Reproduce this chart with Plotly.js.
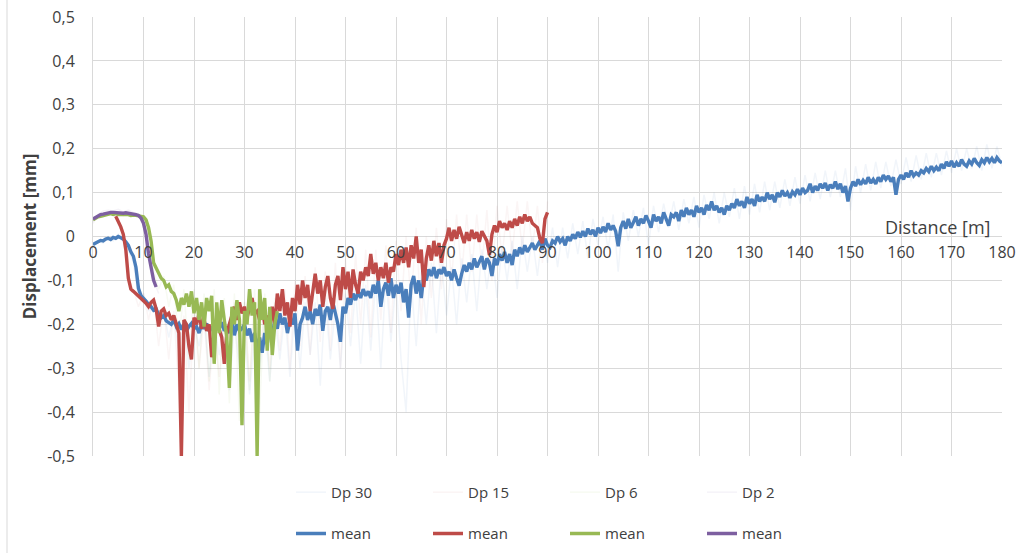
<!DOCTYPE html>
<html>
<head>
<meta charset="utf-8">
<script src="https://cdn.plot.ly/plotly-3.0.1.min.js"></script>
<style>
  html, body { margin: 0; padding: 0; background: #ffffff; }
  #chart { width: 1021px; height: 553px; }
</style>
</head>
<body>
<div id="chart"></div>
<script>
// Distance sampling of each series (m)
const meanStep = 0.5;
const rawStep = 1;

// Raw displacement records (mm), one value per metre
const dp30Start = 0;
const dp30 = [
  -0.02,-0.01,-0.015,0.0,-0.01,0.005,-0.01,-0.03,-0.06,-0.14,
  -0.13,-0.17,-0.15,-0.2,-0.17,-0.23,-0.18,-0.26,-0.19,-0.3,
  -0.2,-0.25,-0.18,-0.32,-0.2,-0.27,-0.19,-0.35,-0.2,-0.3,
  -0.21,-0.36,-0.22,-0.3,-0.2,-0.33,-0.18,-0.28,-0.17,-0.32,
  -0.16,-0.3,-0.15,-0.27,-0.15,-0.34,-0.14,-0.28,-0.16,-0.3,
  -0.13,-0.25,-0.12,-0.29,-0.11,-0.26,-0.1,-0.3,-0.09,-0.24,
  -0.1,-0.28,-0.4,-0.1,-0.25,-0.08,-0.2,-0.06,-0.22,-0.06,
  -0.18,-0.07,-0.2,-0.05,-0.15,-0.04,-0.17,-0.03,-0.12,-0.03,
  -0.14,-0.02,-0.1,-0.01,-0.12,0.0,-0.08,0.0,-0.09,0.01,
  -0.06,0.02,-0.07,0.02,-0.05,0.03,-0.04,0.035,-0.05,0.04,
  -0.02,0.045,-0.03,0.05,-0.08,0.055,-0.01,0.06,0.0,0.065,
  -0.02,0.07,0.01,0.075,0.02,0.08,0.015,0.085,0.03,0.09,
  0.02,0.095,0.04,0.1,0.03,0.1,0.045,0.11,0.04,0.115,
  0.05,0.12,0.055,0.125,0.06,0.125,0.065,0.13,0.07,0.135,
  0.075,0.14,0.08,0.145,0.085,0.15,0.09,0.15,0.09,0.155,
  0.06,0.16,0.1,0.165,0.105,0.17,0.11,0.17,0.115,0.175,
  0.12,0.18,0.125,0.185,0.13,0.19,0.135,0.19,0.14,0.195,
  0.145,0.2,0.15,0.2,0.155,0.205,0.15,0.21,0.155,0.205,
  0.16
];
const dp15Start = 4;
const dp15 = [
  0.05,0.04,0.0,-0.1,-0.12,-0.16,
  -0.13,-0.19,-0.14,-0.25,-0.16,-0.28,-0.17,-0.35,-0.18,-0.4,
  -0.17,-0.3,-0.18,-0.35,-0.2,-0.32,-0.18,-0.3,-0.15,-0.28,
  -0.15,-0.33,-0.16,-0.27,-0.17,-0.3,-0.14,-0.26,-0.12,-0.3,
  -0.1,-0.25,-0.09,-0.27,-0.07,-0.24,-0.08,-0.26,-0.06,-0.3,
  -0.05,-0.22,-0.04,-0.2,-0.03,-0.23,-0.03,-0.19,-0.02,-0.22,
  -0.01,-0.17,0.0,-0.15,0.02,-0.2,0.0,-0.14,0.02,-0.12,
  0.04,-0.1,0.05,-0.09,0.05,-0.08,0.05,-0.07,0.06,-0.1,
  0.07,-0.05,0.07,-0.04,0.08,-0.03,0.08,-0.03,0.07,-0.06,
  0.08
];
const dp6Start = 0;
const dp6 = [
  0.035,0.05,0.045,0.055,0.048,0.056,0.047,0.055,0.046,0.052,
  0.04,0.0,-0.08,-0.12,-0.09,-0.16,-0.11,-0.24,-0.12,-0.28,
  -0.12,-0.3,-0.13,-0.33,-0.12,-0.36,-0.14,-0.38,-0.13,-0.42,
  -0.15,-0.35,-0.12,-0.4,-0.13,-0.33,-0.15
];
const dp2Start = 0;
const dp2 = [
  0.03,0.05,0.058,0.06,0.058,0.062,0.056,0.06,0.055,0.052,
  0.035,-0.03,-0.1,-0.13
];

// Mean displacement (mm), one value per half metre
const mean30Start = 0;
const mean30 = [
  -0.018,-0.014,-0.012,-0.009,-0.010,-0.006,-0.004,-0.007,-0.002,-0.004,
  0.000,-0.003,-0.006,-0.012,-0.020,-0.035,-0.045,-0.070,-0.118,-0.135,
  -0.140,-0.147,-0.155,-0.160,-0.168,-0.165,-0.178,-0.185,-0.180,-0.192,
  -0.196,-0.200,-0.190,-0.205,-0.198,-0.212,-0.200,-0.215,-0.205,-0.198,
  -0.210,-0.205,-0.220,-0.200,-0.210,-0.198,-0.215,-0.205,-0.220,-0.200,
  -0.210,-0.195,-0.215,-0.205,-0.220,-0.190,-0.225,-0.200,-0.215,-0.210,
  -0.200,-0.225,-0.210,-0.240,-0.220,-0.255,-0.230,-0.265,-0.220,-0.245,
  -0.200,-0.225,-0.190,-0.210,-0.175,-0.200,-0.185,-0.220,-0.190,-0.200,
  -0.175,-0.260,-0.200,-0.185,-0.160,-0.190,-0.170,-0.200,-0.165,-0.180,
  -0.155,-0.215,-0.170,-0.160,-0.190,-0.150,-0.175,-0.200,-0.240,-0.160,
  -0.175,-0.140,-0.155,-0.130,-0.145,-0.125,-0.140,-0.120,-0.135,-0.125,
  -0.140,-0.110,-0.130,-0.100,-0.160,-0.120,-0.105,-0.135,-0.095,-0.140,
  -0.110,-0.130,-0.105,-0.150,-0.120,-0.185,-0.110,-0.090,-0.130,-0.100,
  -0.140,-0.090,-0.100,-0.075,-0.090,-0.070,-0.095,-0.075,-0.085,-0.070,
  -0.090,-0.080,-0.100,-0.075,-0.095,-0.112,-0.085,-0.065,-0.080,-0.060,
  -0.075,-0.050,-0.070,-0.055,-0.045,-0.075,-0.050,-0.060,-0.090,-0.050,
  -0.065,-0.040,-0.055,-0.035,-0.060,-0.040,-0.065,-0.030,-0.045,-0.025,
  -0.040,-0.020,-0.035,-0.025,-0.015,-0.030,-0.020,-0.010,-0.030,-0.005,
  -0.020,-0.025,-0.010,-0.015,0.000,-0.012,-0.005,-0.020,0.000,-0.010,
  0.005,-0.005,0.010,-0.002,0.012,0.000,0.018,0.005,0.015,0.000,
  0.020,0.008,0.022,0.010,0.030,0.015,0.025,0.012,-0.022,0.020,
  0.035,0.018,0.040,0.020,0.032,0.045,0.025,0.040,0.030,0.048,
  0.035,0.020,0.050,0.035,0.045,0.030,0.055,0.040,0.025,0.050,
  0.045,0.055,0.035,0.060,0.045,0.065,0.050,0.060,0.045,0.070,
  0.055,0.065,0.050,0.072,0.060,0.080,0.060,0.070,0.055,0.065,
  0.050,0.070,0.060,0.075,0.065,0.085,0.070,0.080,0.065,0.090,
  0.075,0.085,0.070,0.095,0.080,0.090,0.080,0.100,0.085,0.095,
  0.078,0.100,0.090,0.105,0.092,0.100,0.088,0.102,0.095,0.108,
  0.095,0.110,0.100,0.105,0.120,0.100,0.115,0.105,0.120,0.110,
  0.122,0.105,0.118,0.110,0.125,0.108,0.120,0.100,0.115,0.080,
  0.110,0.125,0.115,0.130,0.118,0.128,0.120,0.135,0.122,0.130,
  0.120,0.135,0.125,0.140,0.130,0.138,0.125,0.135,0.095,0.130,
  0.140,0.130,0.145,0.135,0.150,0.138,0.145,0.140,0.150,0.145,
  0.155,0.148,0.160,0.150,0.158,0.150,0.165,0.155,0.170,0.160,
  0.172,0.158,0.168,0.160,0.175,0.165,0.160,0.172,0.165,0.178,
  0.168,0.162,0.175,0.168,0.180,0.170,0.178,0.168,0.180,0.172,
  0.168
];
const mean15Start = 4.5;
const mean15 = [
  0.046,
  0.035,0.022,0.005,-0.030,-0.095,-0.120,-0.125,-0.130,-0.135,-0.140,
  -0.145,-0.152,-0.160,-0.150,-0.145,-0.165,-0.205,-0.170,-0.165,-0.180,
  -0.175,-0.190,-0.180,-0.200,-0.220,-0.500,-0.190,-0.200,-0.250,-0.280,
  -0.185,-0.200,-0.175,-0.210,-0.190,-0.215,-0.200,-0.275,-0.220,-0.195,
  -0.210,-0.230,-0.290,-0.220,-0.200,-0.180,-0.160,-0.190,-0.150,-0.175,
  -0.160,-0.185,-0.165,-0.140,-0.175,-0.170,-0.190,-0.160,-0.200,-0.180,
  -0.210,-0.160,-0.200,-0.130,-0.170,-0.120,-0.180,-0.150,-0.205,-0.140,
  -0.170,-0.110,-0.155,-0.100,-0.140,-0.110,-0.170,-0.120,-0.085,-0.130,
  -0.100,-0.160,-0.115,-0.090,-0.140,-0.165,-0.110,-0.090,-0.145,-0.070,
  -0.120,-0.080,-0.140,-0.075,-0.110,-0.130,-0.080,-0.100,-0.070,-0.090,
  -0.040,-0.085,-0.060,-0.100,-0.070,-0.095,-0.060,-0.105,-0.070,-0.080,
  -0.040,-0.065,-0.030,-0.060,-0.025,-0.070,-0.020,-0.050,0.000,-0.060,
  -0.030,-0.115,-0.050,-0.020,-0.055,-0.010,-0.045,-0.015,-0.060,-0.020,
  -0.005,0.020,-0.010,0.015,-0.005,0.022,0.000,-0.015,0.010,-0.010,
  0.015,-0.005,0.010,-0.012,0.012,0.000,-0.010,-0.042,0.005,0.025,
  0.010,0.035,0.020,0.030,0.015,0.035,0.020,0.040,0.025,0.045,
  0.030,0.050,0.035,0.045,0.030,0.025,0.020,-0.005,-0.015,0.040,
  0.055
];
const mean6Start = 0;
const mean6 = [
  0.038,0.042,0.045,0.046,0.048,0.050,0.050,0.052,0.050,0.052,
  0.050,0.050,0.050,0.049,0.050,0.048,0.049,0.048,0.047,0.047,
  0.045,0.038,0.020,-0.010,-0.060,-0.072,-0.085,-0.095,-0.100,-0.115,
  -0.110,-0.125,-0.130,-0.145,-0.170,-0.140,-0.155,-0.130,-0.160,-0.125,
  -0.175,-0.140,-0.190,-0.150,-0.205,-0.140,-0.170,-0.135,-0.290,-0.150,
  -0.220,-0.145,-0.190,-0.230,-0.345,-0.160,-0.200,-0.145,-0.190,-0.430,
  -0.170,-0.200,-0.120,-0.180,-0.150,-0.500,-0.120,-0.190,-0.140,-0.260,
  -0.160,-0.270,-0.200,-0.170
];
const mean2Start = 0;
const mean2 = [
  0.040,0.044,0.047,0.050,0.051,0.053,0.054,0.055,0.055,0.054,
  0.055,0.054,0.053,0.054,0.053,0.052,0.052,0.050,0.048,0.042,
  0.030,0.005,-0.040,-0.075,-0.100,-0.115
];

// Axis ticks
const xTicks = [0,10,20,30,40,50,60,70,80,90,100,110,120,130,140,150,160,170,180];
const yTicks = [-0.5,-0.4,-0.3,-0.2,-0.1,0,0.1,0.2,0.3,0.4,0.5];
const yTickText = ['-0,5','-0,4','-0,3','-0,2','-0,1','0','0,1','0,2','0,3','0,4','0,5'];

// Series names and colours
const rawNames = ['Dp 30','Dp 15','Dp 6','Dp 2'];
const rawColors = ['rgba(79,129,189,0.08)','rgba(192,80,77,0.06)','rgba(155,187,89,0.08)','rgba(128,100,162,0.08)'];
const meanName = 'mean';
const meanColors = ['#4a7ebb','#be4b48','#98b954','#7d5fa0'];

const FONT = '"Open Sans", "Liberation Sans", sans-serif';
const TEXT = '#404040';
const GRID = '#d9d9d9';

const rawSeries = [[dp30, dp30Start],[dp15, dp15Start],[dp6, dp6Start],[dp2, dp2Start]];
const meanSeries = [[mean30, mean30Start],[mean15, mean15Start],[mean6, mean6Start],[mean2, mean2Start]];

const traces = [];
rawSeries.forEach(function (s, i) {
  traces.push({
    type: 'scatter', mode: 'lines', name: rawNames[i],
    y: s[0], x0: s[1], dx: rawStep,
    line: {color: rawColors[i], width: 1.5},
    legend: 'legend', hoverinfo: 'skip'
  });
});
meanSeries.forEach(function (s, i) {
  traces.push({
    type: 'scatter', mode: 'lines', name: meanName,
    y: s[0], x0: s[1], dx: meanStep,
    line: {color: meanColors[i], width: 3.4},
    legend: 'legend2'
  });
});

// Plot area spans pixels 93..1002 horizontally, 17..456 vertically
const M = {l: 93, r: 19, t: 17, b: 97, autoexpand: false};
const plotW = 1021 - M.l - M.r;
const plotH = 553 - M.t - M.b;

const legendBase = {
  orientation: 'h', x: (291 - M.l) / plotW, xanchor: 'left',
  yanchor: 'middle', entrywidth: 92, entrywidthmode: 'pixels',
  font: {family: FONT, size: 15, color: TEXT},
  bgcolor: 'rgba(0,0,0,0)', borderwidth: 0, itemclick: false, itemdoubleclick: false
};

const layout = {
  width: 1021, height: 553,
  margin: M,
  paper_bgcolor: '#ffffff', plot_bgcolor: '#ffffff',
  font: {family: FONT, color: TEXT},
  showlegend: true,
  legend: Object.assign({}, legendBase, {y: -0.083}),
  legend2: Object.assign({}, legendBase, {y: -0.177}),
  xaxis: {
    range: [0, 180], tickvals: xTicks, ticktext: xTicks.map(String),
    showgrid: true, gridcolor: GRID, gridwidth: 1,
    zeroline: false, showline: false,
    anchor: 'free', position: 0.5,
    ticks: '', ticklabelstandoff: 4,
    tickfont: {family: FONT, size: 16, color: TEXT},
    fixedrange: true
  },
  yaxis: {
    range: [-0.5, 0.5], tickvals: yTicks, ticktext: yTickText,
    showgrid: true, gridcolor: GRID, gridwidth: 1,
    zeroline: true, zerolinecolor: GRID, zerolinewidth: 1,
    showline: true, linecolor: GRID, linewidth: 1,
    ticks: '', ticklabelstandoff: 14,
    tickfont: {family: FONT, size: 16, color: TEXT},
    title: {text: 'Displacement [mm]', standoff: 6, font: {family: FONT, size: 17, color: TEXT, weight: 'bold'}},
    fixedrange: true
  },
  annotations: [{
    text: 'Distance [m]', xref: 'paper', yref: 'y', x: 1, y: 0,
    xanchor: 'right', yanchor: 'middle', xshift: -9, yshift: 10,
    showarrow: false, font: {family: FONT, size: 18, color: TEXT}
  }],
  shapes: [{
    type: 'line', xref: 'paper', yref: 'paper',
    x0: (7 - M.l) / plotW, x1: (7 - M.l) / plotW,
    y0: -M.b / plotH, y1: 1 + M.t / plotH,
    line: {color: GRID, width: 1}
  }]
};

Plotly.newPlot('chart', traces, layout, {displayModeBar: false, staticPlot: true});
</script>
</body>
</html>
